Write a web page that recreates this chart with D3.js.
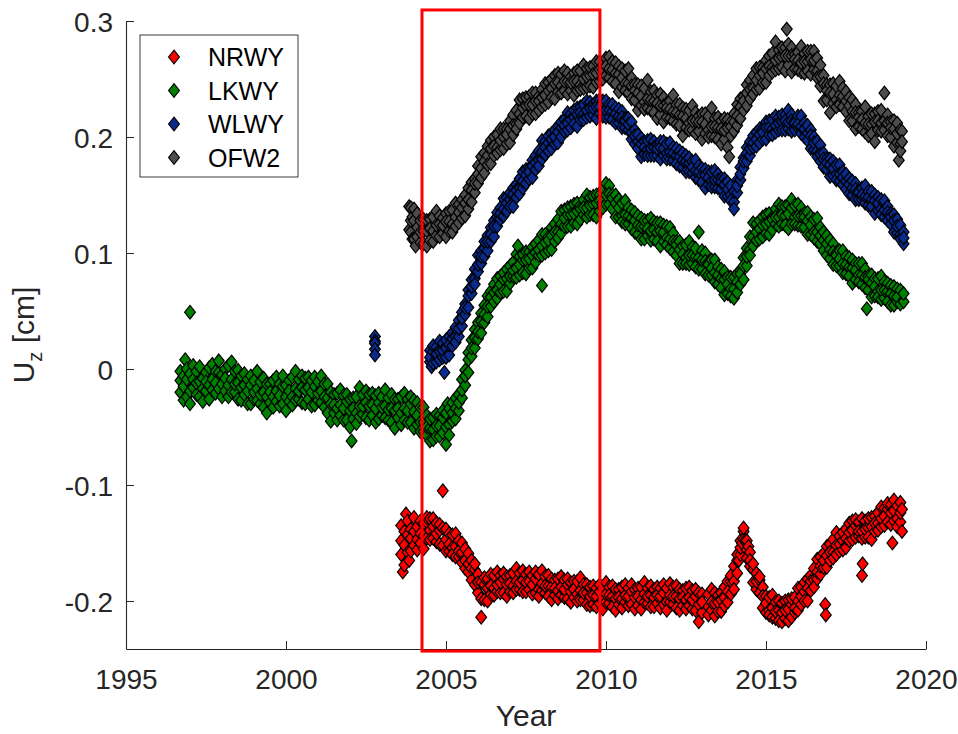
<!DOCTYPE html>
<html><head><meta charset="utf-8">
<script src="https://cdn.jsdelivr.net/npm/d3@7"></script>
<style>html,body{margin:0;padding:0;background:#fff;}svg{display:block;}</style>
</head><body><svg id="chart" width="958" height="734"></svg>
<script>
const seriesNames = ["NRWY", "LKWY", "WLWY", "OFW2"];
const seriesColors = ["#ff0000", "#008000", "#0a2a8c", "#4d4d4d"];
const xTicks = [1995, 2000, 2005, 2010, 2015, 2020];
const yTicks = [-0.2, -0.1, 0, 0.1, 0.2, 0.3];
const xLabel = "Year";
const highlightWindow = [2004.25, 2009.81];

// Each row: [year, Uz values observed around that epoch...]
const nrwy = [
[2003.6,-0.135,-0.160,-0.148],[2003.65,-0.175],[2003.7,-0.169,-0.140,-0.152],[2003.75,-0.125],[2003.8,-0.143,-0.158,-0.131],
[2003.85,-0.165],[2003.9,-0.157,-0.138,-0.146],[2004.0,-0.128,-0.152,-0.140],[2004.1,-0.156,-0.136,-0.147],[2004.2,-0.142,-0.150,-0.131],
[2004.3,-0.155,-0.133,-0.144],[2004.4,-0.132,-0.146,-0.128],[2004.5,-0.139,-0.129,-0.147],[2004.6,-0.129,-0.146,-0.136],
[2004.7,-0.149,-0.133,-0.142],[2004.8,-0.139,-0.151,-0.134],[2004.9,-0.105,-0.137,-0.152],[2005.0,-0.157,-0.138,-0.147],
[2005.1,-0.142,-0.157,-0.151],[2005.2,-0.154,-0.143,-0.160],[2005.3,-0.142,-0.162,-0.153],[2005.4,-0.162,-0.148,-0.157],
[2005.5,-0.158,-0.167,-0.150],[2005.6,-0.172,-0.155,-0.165],[2005.7,-0.159,-0.175,-0.168],[2005.8,-0.182,-0.165,-0.172],
[2005.9,-0.173,-0.186,-0.168],[2006.0,-0.193,-0.177,-0.184],[2006.1,-0.214,-0.184,-0.198],[2006.2,-0.186,-0.199,-0.180],
[2006.3,-0.200,-0.181,-0.189],[2006.4,-0.177,-0.194,-0.187],[2006.5,-0.189,-0.178,-0.195],[2006.6,-0.175,-0.192,-0.186],
[2006.7,-0.193,-0.178,-0.184],[2006.8,-0.181,-0.193,-0.176],[2006.9,-0.196,-0.179,-0.186],[2007.0,-0.178,-0.192,-0.185],
[2007.1,-0.187,-0.176,-0.193],[2007.2,-0.172,-0.190,-0.183],[2007.3,-0.190,-0.176,-0.184],[2007.4,-0.182,-0.192,-0.174],
[2007.5,-0.192,-0.177,-0.184],[2007.6,-0.175,-0.190,-0.183],[2007.7,-0.194,-0.178,-0.186],[2007.8,-0.181,-0.193,-0.175],
[2007.9,-0.190,-0.177,-0.196],[2008.0,-0.174,-0.191,-0.185],[2008.1,-0.193,-0.179,-0.187],[2008.2,-0.187,-0.196,-0.178],
[2008.3,-0.199,-0.181,-0.188],[2008.4,-0.182,-0.195,-0.189],[2008.5,-0.191,-0.181,-0.198],[2008.6,-0.179,-0.195,-0.188],
[2008.7,-0.197,-0.182,-0.190],[2008.8,-0.186,-0.198,-0.181],[2008.9,-0.201,-0.184,-0.192],[2009.0,-0.183,-0.197,-0.190],
[2009.1,-0.194,-0.183,-0.200],[2009.2,-0.180,-0.199,-0.191],[2009.3,-0.199,-0.186,-0.193],[2009.4,-0.193,-0.203,-0.186],
[2009.5,-0.204,-0.188,-0.196],[2009.6,-0.187,-0.203,-0.195],[2009.7,-0.205,-0.189,-0.196],[2009.8,-0.192,-0.202,-0.186],
[2009.9,-0.200,-0.189,-0.207],[2010.0,-0.184,-0.201,-0.194],[2010.1,-0.202,-0.188,-0.195],[2010.2,-0.196,-0.205,-0.187],
[2010.3,-0.208,-0.190,-0.198],[2010.4,-0.190,-0.203,-0.197],[2010.5,-0.198,-0.188,-0.206],[2010.6,-0.186,-0.201,-0.195],
[2010.7,-0.204,-0.189,-0.196],[2010.8,-0.192,-0.203,-0.186],[2010.9,-0.207,-0.190,-0.197],[2011.0,-0.189,-0.204,-0.196],
[2011.1,-0.199,-0.188,-0.207],[2011.2,-0.184,-0.201,-0.194],[2011.3,-0.202,-0.189,-0.196],[2011.4,-0.195,-0.205,-0.187],
[2011.5,-0.205,-0.190,-0.197],[2011.6,-0.188,-0.202,-0.195],[2011.7,-0.206,-0.189,-0.196],[2011.8,-0.193,-0.203,-0.186],
[2011.9,-0.201,-0.189,-0.208],[2012.0,-0.185,-0.201,-0.195],[2012.1,-0.203,-0.188,-0.196],[2012.2,-0.196,-0.206,-0.187],
[2012.3,-0.208,-0.190,-0.198],[2012.4,-0.191,-0.204,-0.197],[2012.5,-0.199,-0.189,-0.207],[2012.6,-0.188,-0.204,-0.197],
[2012.7,-0.207,-0.191,-0.199],[2012.8,-0.196,-0.208,-0.190],[2012.9,-0.218,-0.193,-0.203],[2013.0,-0.194,-0.210,-0.201],
[2013.2,-0.205,-0.194,-0.212],[2013.3,-0.190,-0.208,-0.201],[2013.4,-0.213,-0.193,-0.202],[2013.5,-0.195,-0.209,-0.201],
[2013.6,-0.209,-0.193,-0.199],[2013.7,-0.188,-0.204,-0.197],[2013.8,-0.201,-0.183,-0.192],[2013.9,-0.183,-0.194,-0.178],
[2014.0,-0.183,-0.170,-0.190],[2014.1,-0.165,-0.176,-0.160],[2014.15,-0.165],[2014.2,-0.148,-0.160,-0.154],[2014.25,-0.150],
[2014.3,-0.140,-0.147,-0.137],[2014.35,-0.148],[2014.4,-0.156,-0.148,-0.163],[2014.45,-0.153],[2014.5,-0.170,-0.158,-0.165],
[2014.6,-0.173,-0.184,-0.168],[2014.7,-0.190,-0.176,-0.183],[2014.8,-0.182,-0.193,-0.179],[2014.9,-0.206,-0.188,-0.196],
[2015.0,-0.196,-0.210,-0.202],[2015.1,-0.208,-0.197,-0.212],[2015.2,-0.195,-0.214,-0.206],[2015.3,-0.215,-0.201,-0.209],
[2015.4,-0.208,-0.217,-0.200],[2015.5,-0.218,-0.202,-0.210],[2015.6,-0.200,-0.215,-0.208],[2015.7,-0.217,-0.199,-0.207],
[2015.8,-0.203,-0.214,-0.198],[2015.9,-0.210,-0.197,-0.206],[2016.0,-0.189,-0.208,-0.200],[2016.1,-0.203,-0.188,-0.196],
[2016.2,-0.192,-0.200,-0.184],[2016.3,-0.200,-0.181,-0.189],[2016.4,-0.178,-0.191,-0.183],[2016.5,-0.182,-0.172,-0.188],
[2016.6,-0.164,-0.181,-0.175],[2016.7,-0.177,-0.162,-0.170],[2016.8,-0.159,-0.171,-0.165],[2016.85,-0.203],[2016.87,-0.212],
[2016.9,-0.171,-0.153,-0.161],[2017.0,-0.151,-0.165,-0.158],[2017.1,-0.158,-0.147,-0.163],[2017.2,-0.141,-0.160,-0.152],
[2017.3,-0.157,-0.144,-0.151],[2017.4,-0.148,-0.156,-0.141],[2017.5,-0.154,-0.138,-0.146],[2017.6,-0.133,-0.148,-0.141],
[2017.7,-0.147,-0.131,-0.139],[2017.8,-0.135,-0.145,-0.130],[2017.9,-0.144,-0.132,-0.140],[2018.0,-0.129,-0.146,-0.140,-0.178],
[2018.02,-0.168],[2018.1,-0.145,-0.131,-0.138],[2018.2,-0.137,-0.145,-0.129],[2018.3,-0.147,-0.128,-0.136],
[2018.4,-0.127,-0.140,-0.133],[2018.5,-0.133,-0.124,-0.139],[2018.6,-0.119,-0.136,-0.129],[2018.7,-0.135,-0.120,-0.127],
[2018.8,-0.121,-0.132,-0.116],[2018.9,-0.134,-0.117,-0.124],[2018.95,-0.150],[2019.0,-0.113,-0.131,-0.122],
[2019.1,-0.129,-0.118,-0.136],[2019.2,-0.115,-0.132,-0.124],[2019.25,-0.140,-0.121]
];

const lkwy = [
[1997.0,0.049],[1996.7,-0.002,-0.020,-0.010],[1996.8,-0.027,-0.006,-0.015],[1996.85,0.008],[1996.9,-0.009,-0.024,0.000],
[1997.0,-0.019,-0.004,-0.030],[1997.1,0.003,-0.016,-0.009],[1997.2,-0.022,-0.002,-0.012],[1997.3,-0.011,-0.024,0.002],
[1997.4,-0.028,-0.008,-0.017],[1997.5,-0.003,-0.019,-0.011],[1997.6,-0.014,0.001,-0.026],[1997.7,0.004,-0.018,-0.009],
[1997.8,-0.021,-0.002,-0.012],[1997.9,-0.003,-0.017,0.007],[1998.0,-0.024,-0.005,-0.013],[1998.1,0.000,-0.019,-0.008],
[1998.2,-0.014,0.003,-0.024],[1998.3,0.006,-0.020,-0.009],[1998.4,-0.020,-0.002,-0.013],[1998.5,-0.012,-0.026,-0.001],
[1998.6,-0.027,-0.006,-0.016],[1998.7,-0.004,-0.022,-0.014],[1998.8,-0.030,-0.009,-0.019],[1998.9,-0.014,-0.030,-0.006],
[1999.0,-0.026,-0.010,-0.020],[1999.1,-0.002,-0.027,-0.017],[1999.2,-0.030,-0.011,-0.022],[1999.3,-0.020,-0.033,-0.008],
[1999.4,-0.038,-0.013,-0.024],[1999.5,-0.013,-0.029,-0.020],[1999.6,-0.024,-0.010,-0.033],[1999.7,-0.007,-0.028,-0.019],
[1999.8,-0.032,-0.013,-0.023],[1999.9,-0.015,-0.030,-0.006],[2000.0,-0.036,-0.014,-0.024],[2000.1,-0.010,-0.028,-0.019],
[2000.2,-0.024,-0.007,-0.031],[2000.3,-0.002,-0.027,-0.017],[2000.4,-0.026,-0.009,-0.019],[2000.5,-0.016,-0.029,-0.006],
[2000.6,-0.030,-0.008,-0.018],[2000.7,-0.007,-0.026,-0.016],[2000.8,-0.032,-0.010,-0.020],[2000.9,-0.015,-0.031,-0.007],
[2001.0,-0.027,-0.011,-0.021],[2001.1,-0.006,-0.029,-0.019],[2001.2,-0.033,-0.013,-0.024],[2001.3,-0.025,-0.038,-0.013],
[2001.4,-0.045,-0.020,-0.030],[2001.5,-0.022,-0.038,-0.031],[2001.6,-0.034,-0.021,-0.044],[2001.7,-0.018,-0.040,-0.031],
[2001.8,-0.044,-0.023,-0.034],[2001.9,-0.028,-0.044,-0.022],[2002.0,-0.050,-0.026,-0.036],[2002.05,-0.062],
[2002.1,-0.025,-0.043,-0.034],[2002.2,-0.038,-0.024,-0.047],[2002.3,-0.016,-0.041,-0.032],[2002.4,-0.039,-0.022,-0.032],
[2002.5,-0.029,-0.042,-0.019],[2002.6,-0.044,-0.022,-0.032],[2002.7,-0.021,-0.040,-0.031],[2002.8,-0.046,-0.023,-0.034],
[2002.9,-0.029,-0.043,-0.021],[2003.0,-0.040,-0.024,-0.033],[2003.1,-0.018,-0.042,-0.032],[2003.2,-0.044,-0.025,-0.035],
[2003.3,-0.034,-0.046,-0.022],[2003.4,-0.051,-0.026,-0.036],[2003.5,-0.026,-0.042,-0.034],[2003.6,-0.038,-0.024,-0.048],
[2003.7,-0.021,-0.044,-0.034],[2003.8,-0.046,-0.026,-0.036],[2003.9,-0.030,-0.046,-0.024],[2004.0,-0.051,-0.027,-0.037],
[2004.1,-0.029,-0.048,-0.040],[2004.2,-0.046,-0.033,-0.054],[2004.3,-0.033,-0.054,-0.046],[2004.4,-0.057,-0.040,-0.050],
[2004.5,-0.051,-0.062,-0.043],[2004.6,-0.061,-0.042,-0.052],[2004.7,-0.039,-0.058,-0.049],[2004.8,-0.058,-0.040,-0.049],
[2004.9,-0.042,-0.055,-0.036],[2005.0,-0.065,-0.038,-0.050],[2005.05,-0.030],[2005.1,-0.048,-0.034,-0.057],
[2005.2,-0.029,-0.045,-0.038],[2005.3,-0.043,-0.025,-0.034],[2005.4,-0.022,-0.036,-0.029],[2005.5,-0.025,-0.009,-0.018],
[2005.6,-0.001,-0.014,-0.006],[2005.7,-0.003,0.014,0.008],[2005.8,0.025,0.011,0.018],[2005.9,0.018,0.034,0.027],
[2006.0,0.040,0.026,0.032],[2006.1,0.031,0.048,0.041],[2006.2,0.055,0.040,0.047],[2006.3,0.045,0.063,0.054],
[2006.4,0.067,0.054,0.062],[2006.5,0.058,0.073,0.066],[2006.6,0.078,0.061,0.068],[2006.7,0.066,0.080,0.073],
[2006.8,0.077,0.067,0.083],[2006.9,0.067,0.086,0.078],[2007.0,0.089,0.074,0.080],[2007.1,0.080,0.092,0.085],
[2007.2,0.099,0.079,0.087],[2007.25,0.106],[2007.3,0.081,0.097,0.090],[2007.4,0.094,0.083,0.099],[2007.5,0.082,0.101,0.094],
[2007.6,0.101,0.087,0.095],[2007.7,0.087,0.105,0.098],[2007.8,0.108,0.092,0.100],[2007.9,0.098,0.111,0.103],
[2008.0,0.116,0.098,0.106,0.072],[2008.1,0.100,0.116,0.109],[2008.2,0.114,0.102,0.111],[2008.3,0.103,0.122,0.115],
[2008.4,0.125,0.110,0.118],[2008.5,0.118,0.129,0.113],[2008.6,0.136,0.117,0.125],[2008.7,0.123,0.137,0.130],
[2008.8,0.133,0.123,0.139],[2008.9,0.123,0.140,0.133],[2009.0,0.142,0.126,0.134],[2009.1,0.125,0.143,0.136],
[2009.2,0.141,0.129,0.138],[2009.3,0.133,0.146,0.139],[2009.4,0.150,0.131,0.139],[2009.5,0.133,0.148,0.141],
[2009.6,0.142,0.133,0.149],[2009.7,0.131,0.150,0.143],[2009.8,0.150,0.136,0.145],[2009.9,0.144,0.155,0.139],
[2010.0,0.160,0.142,0.150],[2010.1,0.142,0.158,0.151],[2010.2,0.150,0.138,0.147],[2010.3,0.131,0.150,0.143],
[2010.4,0.146,0.131,0.139],[2010.5,0.132,0.143,0.127],[2010.6,0.145,0.125,0.133],[2010.7,0.125,0.139,0.132],
[2010.8,0.130,0.121,0.137],[2010.9,0.118,0.135,0.128],[2011.0,0.132,0.116,0.124],[2011.1,0.112,0.130,0.123],
[2011.2,0.123,0.112,0.128],[2011.3,0.115,0.128,0.121],[2011.4,0.130,0.111,0.119],[2011.5,0.112,0.127,0.120],
[2011.6,0.118,0.110,0.126],[2011.7,0.106,0.126,0.119],[2011.8,0.124,0.110,0.118],[2011.9,0.113,0.123,0.107],
[2012.0,0.122,0.104,0.112],[2012.1,0.101,0.117,0.110],[2012.2,0.110,0.098,0.107],[2012.3,0.091,0.110,0.103],
[2012.4,0.106,0.091,0.099],[2012.5,0.096,0.107,0.091],[2012.6,0.110,0.090,0.098],[2012.7,0.091,0.105,0.098],
[2012.8,0.097,0.088,0.104],[2012.9,0.086,0.118,0.096],[2013.0,0.102,0.086,0.094],[2013.1,0.082,0.100,0.093],
[2013.2,0.092,0.081,0.090],[2013.3,0.081,0.094,0.087],[2013.4,0.094,0.075,0.083],[2013.5,0.073,0.088,0.081],
[2013.6,0.078,0.070,0.086],[2013.7,0.064,0.084,0.077],[2013.8,0.079,0.065,0.073],[2013.9,0.069,0.079,0.063],
[2014.0,0.079,0.061,0.069],[2014.1,0.066,0.082,0.075],[2014.2,0.085,0.073,0.082],[2014.3,0.077,0.096,0.089],
[2014.4,0.104,0.089,0.097],[2014.5,0.103,0.114,0.098],[2014.6,0.126,0.106,0.114],[2014.7,0.111,0.125,0.118],
[2014.8,0.121,0.112,0.128],[2014.9,0.114,0.131,0.124],[2015.0,0.133,0.117,0.125],[2015.1,0.116,0.134,0.127],
[2015.2,0.131,0.120,0.129],[2015.3,0.125,0.138,0.131],[2015.4,0.142,0.123,0.131],[2015.5,0.125,0.140,0.133],
[2015.6,0.132,0.124,0.140],[2015.7,0.121,0.141,0.134],[2015.8,0.139,0.125,0.146],[2015.9,0.131,0.141,0.125],
[2016.0,0.142,0.124,0.132],[2016.1,0.123,0.139,0.132],[2016.2,0.134,0.122,0.131],[2016.3,0.116,0.135,0.128],
[2016.4,0.131,0.116,0.124],[2016.5,0.118,0.129,0.113],[2016.6,0.130,0.110,0.118],[2016.7,0.108,0.122,0.115],
[2016.8,0.111,0.102,0.118],[2016.9,0.098,0.115,0.108],[2017.0,0.111,0.095,0.103],[2017.1,0.090,0.108,0.101],
[2017.2,0.100,0.089,0.098],[2017.3,0.089,0.102,0.095],[2017.4,0.102,0.083,0.091],[2017.5,0.082,0.097,0.090],
[2017.6,0.088,0.080,0.096],[2017.7,0.074,0.094,0.087],[2017.8,0.091,0.077,0.085],[2017.9,0.081,0.091,0.075],
[2018.0,0.091,0.073,0.081],[2018.1,0.070,0.086,0.079],[2018.15,0.052],[2018.2,0.080,0.068,0.077],[2018.3,0.062,0.081,0.074],
[2018.4,0.078,0.063,0.071],[2018.5,0.067,0.078,0.062],[2018.6,0.080,0.060,0.068],[2018.7,0.061,0.075,0.068],
[2018.8,0.067,0.058,0.074],[2018.9,0.055,0.072,0.065],[2019.0,0.071,0.055,0.063],[2019.1,0.058,0.069,0.062],
[2019.2,0.068,0.056],[2019.3,0.058,0.065]
];

const wlwy = [
[2002.78,0.028,0.024,0.022,0.017,0.012],
[2004.5,0.016,0.006,0.010],[2004.55,0.002],[2004.6,0.015,0.005,0.020],[2004.7,0.006,0.019,0.013],[2004.8,0.024,0.008,0.015],
[2004.9,0.010,0.022,0.016],[2004.95,-0.003],[2005.0,0.018,0.010,0.025],[2005.1,0.012,0.028,0.021],[2005.2,0.031,0.020,0.026],
[2005.3,0.028,0.036,0.023],[2005.4,0.042,0.028,0.035],[2005.5,0.037,0.049,0.044],[2005.6,0.056,0.047,0.053],
[2005.7,0.053,0.068,0.063],[2005.8,0.077,0.065,0.071],[2005.9,0.078,0.086,0.073],[2006.0,0.098,0.084,0.090],
[2006.1,0.091,0.102,0.097],[2006.2,0.104,0.097,0.110],[2006.3,0.102,0.115,0.110],[2006.4,0.122,0.110,0.116],
[2006.5,0.114,0.128,0.123],[2006.6,0.131,0.123,0.135],[2006.7,0.129,0.139,0.134],[2006.8,0.147,0.132,0.138],
[2006.9,0.136,0.148,0.143],[2007.0,0.146,0.140,0.152],[2007.1,0.140,0.156,0.151],[2007.2,0.159,0.148,0.154],
[2007.3,0.156,0.164,0.151],[2007.4,0.170,0.156,0.162],[2007.5,0.160,0.172,0.167],[2007.6,0.173,0.164,0.170],
[2007.7,0.165,0.180,0.175],[2007.8,0.184,0.172,0.178],[2007.9,0.180,0.188,0.175],[2008.0,0.197,0.181,0.187],
[2008.1,0.185,0.196,0.191],[2008.2,0.195,0.188,0.201],[2008.3,0.190,0.203,0.198],[2008.4,0.206,0.194,0.200],
[2008.5,0.195,0.209,0.204],[2008.6,0.208,0.200,0.213],[2008.7,0.205,0.215,0.210],[2008.8,0.221,0.206,0.212],
[2008.9,0.208,0.220,0.215],[2009.0,0.217,0.211,0.223],[2009.1,0.209,0.225,0.220],[2009.2,0.226,0.215,0.221],
[2009.3,0.220,0.228,0.215],[2009.4,0.231,0.217,0.223],[2009.5,0.218,0.230,0.225],[2009.6,0.228,0.219,0.225],
[2009.7,0.216,0.231,0.226],[2009.8,0.232,0.220,0.226],[2009.9,0.223,0.231,0.218],[2010.0,0.231,0.217,0.223],
[2010.1,0.217,0.228,0.223],[2010.2,0.222,0.215,0.228],[2010.3,0.212,0.225,0.220],[2010.4,0.224,0.212,0.218],
[2010.5,0.208,0.222,0.217],[2010.6,0.216,0.208,0.214],[2010.7,0.206,0.216,0.211],[2010.8,0.213,0.198,0.204],
[2010.9,0.194,0.206,0.201],[2011.0,0.196,0.190,0.202],[2011.1,0.183,0.199,0.194],[2011.2,0.196,0.185,0.191],
[2011.3,0.189,0.197,0.184],[2011.4,0.198,0.184,0.190],[2011.5,0.184,0.196,0.191],[2011.6,0.193,0.184,0.190],
[2011.7,0.181,0.196,0.191],[2011.8,0.196,0.184,0.190],[2011.9,0.186,0.194,0.181],[2012.0,0.195,0.181,0.187],
[2012.1,0.180,0.191,0.186],[2012.2,0.184,0.177,0.190],[2012.3,0.175,0.188,0.183],[2012.4,0.186,0.174,0.180],
[2012.5,0.170,0.184,0.179],[2012.6,0.178,0.170,0.182],[2012.7,0.169,0.179,0.174],[2012.8,0.180,0.165,0.171],
[2012.9,0.163,0.175,0.170],[2013.0,0.167,0.161,0.173],[2013.1,0.156,0.172,0.167],[2013.2,0.170,0.159,0.165],
[2013.3,0.162,0.170,0.157],[2013.4,0.171,0.157,0.163],[2013.5,0.156,0.168,0.163],[2013.6,0.164,0.155,0.161],
[2013.7,0.149,0.164,0.159],[2013.8,0.161,0.149,0.155],[2013.9,0.150,0.158,0.145],[2014.0,0.144,0.138,0.153],
[2014.1,0.163,0.152,0.158],[2014.2,0.163,0.174,0.168],[2014.3,0.182,0.173,0.179],[2014.4,0.179,0.191,0.186],
[2014.5,0.196,0.184,0.190],[2014.6,0.191,0.201,0.195],[2014.7,0.204,0.192,0.198],[2014.8,0.195,0.207,0.202],
[2014.9,0.207,0.198,0.204],[2015.0,0.198,0.213,0.208],[2015.1,0.214,0.202,0.208],[2015.2,0.207,0.215,0.202],
[2015.3,0.218,0.204,0.210],[2015.4,0.206,0.217,0.212],[2015.5,0.213,0.206,0.219],[2015.6,0.206,0.219,0.214],
[2015.7,0.223,0.207,0.213],[2015.8,0.205,0.219,0.214],[2015.9,0.214,0.206,0.212],[2016.0,0.208,0.218,0.211],
[2016.1,0.218,0.203,0.209],[2016.2,0.200,0.212,0.207],[2016.3,0.203,0.197,0.210],[2016.4,0.190,0.206,0.201],
[2016.5,0.200,0.189,0.195],[2016.6,0.188,0.196,0.183],[2016.7,0.193,0.179,0.185],[2016.8,0.174,0.186,0.181],
[2016.9,0.181,0.172,0.178],[2017.0,0.166,0.181,0.176],[2017.1,0.179,0.167,0.173],[2017.2,0.168,0.176,0.163],
[2017.3,0.176,0.162,0.168],[2017.4,0.159,0.170,0.165],[2017.5,0.162,0.155,0.168],[2017.6,0.151,0.164,0.159],
[2017.7,0.162,0.150,0.156],[2017.8,0.146,0.160,0.155],[2017.9,0.154,0.146,0.152],[2018.0,0.146,0.156,0.150],
[2018.1,0.158,0.143,0.149],[2018.2,0.141,0.153,0.148],[2018.3,0.146,0.140,0.153],[2018.4,0.134,0.150,0.145],
[2018.5,0.148,0.137,0.143],[2018.6,0.138,0.146,0.133],[2018.7,0.145,0.131,0.137],[2018.8,0.128,0.140,0.135],
[2018.9,0.134,0.125,0.131],[2019.0,0.118,0.133,0.128],[2019.1,0.129,0.117,0.123],[2019.2,0.116,0.124,0.112],
[2019.3,0.118,0.108,0.113]
];

const ofw2 = [
[2003.85,0.140,0.120],[2003.9,0.139,0.118,0.128],[2003.95,0.112,0.131],[2004.0,0.128,0.112,0.138],[2004.05,0.106],
[2004.1,0.134,0.114,0.122],[2004.2,0.109,0.128,0.118],[2004.3,0.119,0.108,0.129],[2004.4,0.106,0.128,0.119],
[2004.5,0.129,0.111,0.121],[2004.6,0.119,0.131,0.110],[2004.7,0.136,0.115,0.124],[2004.8,0.114,0.132,0.125],
[2004.9,0.130,0.117,0.124],[2005.0,0.114,0.134,0.127],[2005.1,0.136,0.119,0.127],[2005.2,0.125,0.137,0.118],
[2005.3,0.143,0.123,0.131],[2005.4,0.126,0.142,0.135],[2005.5,0.139,0.130,0.146],[2005.6,0.132,0.150,0.143],
[2005.7,0.156,0.138,0.146],[2005.8,0.144,0.161,0.154],[2005.9,0.164,0.152,0.160],[2006.0,0.160,0.175,0.168],
[2006.1,0.183,0.165,0.173],[2006.2,0.169,0.186,0.179],[2006.3,0.184,0.176,0.192],[2006.4,0.177,0.197,0.190],
[2006.5,0.200,0.184,0.192],[2006.6,0.191,0.202,0.186],[2006.7,0.207,0.189,0.197],[2006.8,0.190,0.207,0.200],
[2006.9,0.207,0.194,0.202],[2007.0,0.195,0.214,0.207],[2007.1,0.219,0.202,0.210],[2007.2,0.211,0.223,0.207],
[2007.3,0.232,0.212,0.220],[2007.4,0.217,0.233,0.225],[2007.5,0.227,0.218,0.234],[2007.6,0.216,0.235,0.228],
[2007.7,0.238,0.220,0.228],[2007.8,0.220,0.238,0.231],[2007.9,0.235,0.223,0.231],[2008.0,0.226,0.241,0.234],
[2008.1,0.246,0.228,0.236],[2008.2,0.230,0.247,0.240],[2008.3,0.242,0.234,0.250],[2008.4,0.233,0.253,0.246],
[2008.5,0.255,0.239,0.247],[2008.6,0.244,0.254,0.238],[2008.7,0.257,0.240,0.248],[2008.8,0.237,0.255,0.248],
[2008.9,0.252,0.240,0.247],[2009.0,0.236,0.255,0.248],[2009.1,0.257,0.240,0.248],[2009.2,0.245,0.257,0.241],
[2009.3,0.262,0.242,0.250],[2009.4,0.243,0.259,0.252],[2009.5,0.253,0.244,0.260],[2009.6,0.243,0.261,0.254],
[2009.7,0.265,0.247,0.255],[2009.8,0.248,0.265,0.258],[2009.9,0.262,0.250,0.258],[2010.0,0.253,0.268,0.261],
[2010.1,0.269,0.251,0.259],[2010.2,0.248,0.265,0.258],[2010.3,0.255,0.246,0.264],[2010.4,0.239,0.261,0.254],
[2010.5,0.259,0.243,0.251],[2010.6,0.246,0.257,0.240],[2010.7,0.259,0.238,0.246],[2010.8,0.233,0.251,0.244],
[2010.9,0.245,0.232,0.240],[2011.0,0.223,0.245,0.238],[2011.1,0.244,0.227,0.235],[2011.2,0.230,0.242,0.224],
[2011.3,0.249,0.225,0.233],[2011.4,0.223,0.239,0.232],[2011.5,0.231,0.221,0.240],[2011.6,0.216,0.236,0.229],
[2011.7,0.237,0.219,0.227],[2011.8,0.213,0.234,0.227],[2011.9,0.229,0.217,0.225],[2012.0,0.216,0.231,0.224],
[2012.1,0.236,0.214,0.222],[2012.2,0.211,0.228,0.221],[2012.3,0.219,0.210,0.228],[2012.4,0.201,0.225,0.218],
[2012.5,0.224,0.208,0.216],[2012.6,0.212,0.223,0.206],[2012.7,0.227,0.206,0.214],[2012.8,0.203,0.221,0.214],
[2012.9,0.218,0.205,0.213],[2013.0,0.198,0.220,0.213],[2013.1,0.220,0.203,0.211],[2013.2,0.206,0.218,0.200],
[2013.3,0.225,0.201,0.209],[2013.4,0.200,0.216,0.209],[2013.5,0.208,0.198,0.217],[2013.6,0.194,0.214,0.207],
[2013.7,0.216,0.198,0.206],[2013.8,0.191,0.215,0.208],[2013.85,0.183],[2013.9,0.213,0.201,0.209],
[2014.0,0.205,0.220,0.213],[2014.1,0.228,0.210,0.218],[2014.2,0.216,0.233,0.226],[2014.3,0.235,0.223,0.231],
[2014.4,0.227,0.245,0.238],[2014.5,0.249,0.233,0.241],[2014.6,0.242,0.253,0.237],[2014.7,0.259,0.241,0.249],
[2014.8,0.242,0.260,0.253],[2014.9,0.260,0.247,0.255],[2015.0,0.247,0.266,0.259],[2015.1,0.270,0.253,0.261],
[2015.2,0.260,0.272,0.256],[2015.3,0.282,0.258,0.266],[2015.4,0.259,0.275,0.268],[2015.5,0.269,0.260,0.277],
[2015.6,0.257,0.277,0.270],[2015.65,0.293],[2015.7,0.280,0.262,0.270],[2015.8,0.256,0.277,0.270],
[2015.9,0.271,0.259,0.267],[2016.0,0.258,0.273,0.266],[2016.1,0.278,0.256,0.264],[2016.2,0.255,0.272,0.265],
[2016.3,0.265,0.257,0.274],[2016.4,0.254,0.274,0.267],[2016.5,0.274,0.258,0.266],[2016.6,0.257,0.268,0.251],
[2016.7,0.262,0.244,0.252],[2016.8,0.231,0.253,0.246],[2016.9,0.245,0.232,0.240],[2017.0,0.221,0.245,0.238],
[2017.1,0.246,0.229,0.237],[2017.2,0.232,0.244,0.226],[2017.3,0.248,0.228,0.236],[2017.4,0.226,0.242,0.235],
[2017.5,0.231,0.222,0.239],[2017.6,0.214,0.234,0.227],[2017.7,0.232,0.214,0.222],[2017.8,0.207,0.228,0.221],
[2017.9,0.221,0.209,0.217],[2018.0,0.207,0.222,0.215],[2018.1,0.226,0.204,0.212],[2018.2,0.201,0.218,0.211],
[2018.3,0.211,0.203,0.220],[2018.4,0.196,0.220,0.213],[2018.5,0.222,0.206,0.214],[2018.6,0.212,0.223,0.205],
[2018.7,0.238,0.206,0.214],[2018.8,0.201,0.219,0.212],[2018.9,0.213,0.200,0.208],[2019.0,0.192,0.214,0.207],
[2019.1,0.212,0.195,0.203],[2019.15,0.180],[2019.2,0.194,0.206,0.188],[2019.25,0.205,0.196]
];

const allSeries = [nrwy, lkwy, wlwy, ofw2];

const svg = d3.select("#chart");
const FONT = "'Liberation Sans', Arial, Helvetica, sans-serif";
const AX = "#262626";

const x = d3.scaleLinear().domain([1995, 2020]).range([126, 926]);
const y = d3.scaleLinear().domain([-0.2414, 0.3]).range([649, 21]);

const dw = 5.4, dh = 6.8;
const diamondPath = `M0,${-dh}L${dw},0L0,${dh}L${-dw},0Z`;

const fmtY = d => d === 0 ? "0" : d3.format(".1f")(d).replace("\u2212", "-");
const xAxis = d3.axisBottom(x).tickValues(xTicks).tickFormat(d3.format("d")).tickSizeInner(-8).tickSizeOuter(0).tickPadding(20);
const gx = svg.append("g").attr("transform", `translate(0,${y.range()[0]})`).call(xAxis);
const yAxis = d3.axisLeft(y).tickValues(yTicks).tickFormat(fmtY).tickSizeInner(-8).tickSizeOuter(0).tickPadding(13);
const gy = svg.append("g").attr("transform", `translate(${x.range()[0]},0)`).call(yAxis);
[gx, gy].forEach(g => {
  g.select(".domain").attr("stroke", AX).attr("stroke-width", 1.1);
  g.selectAll(".tick line").attr("stroke", AX).attr("stroke-width", 1);
  g.selectAll(".tick text").attr("fill", AX).style("font-family", FONT).style("font-size", "28px");
});
gx.selectAll(".tick text").attr("dy", "0.72em");
gy.selectAll(".tick text").attr("dy", "0.36em");

allSeries.forEach((rows, i) => {
  const pts = rows.flatMap(r => r.slice(1).map(v => [r[0], v]));
  svg.append("g").selectAll("path").data(pts).join("path")
    .attr("d", diamondPath)
    .attr("transform", d => `translate(${x(d[0])},${y(d[1])})`)
    .attr("fill", seriesColors[i]).attr("stroke", "#000").attr("stroke-width", 1.2);
});

svg.append("rect")
  .attr("x", x(highlightWindow[0])).attr("y", y(0.3095))
  .attr("width", x(highlightWindow[1]) - x(highlightWindow[0]))
  .attr("height", y(-0.2432) - y(0.3095))
  .attr("fill", "none").attr("stroke", "#ff0000").attr("stroke-width", 3);

svg.append("text").attr("x", (x.range()[0] + x.range()[1]) / 2).attr("y", 726)
  .attr("text-anchor", "middle").attr("fill", AX).style("font-family", FONT).style("font-size", "30px").text(xLabel);
const yl = svg.append("text").attr("transform", "translate(34,335) rotate(-90)")
  .attr("text-anchor", "middle").attr("fill", AX).style("font-family", FONT).style("font-size", "30px");
yl.append("tspan").text("U");
yl.append("tspan").attr("dy", 8).style("font-size", "20px").text("z");
yl.append("tspan").attr("dy", -8).text(" [cm]");

const lg = svg.append("g");
lg.append("rect").attr("x", 140).attr("y", 35).attr("width", 158).attr("height", 142)
  .attr("fill", "#fff").attr("stroke", AX).attr("stroke-width", 0.9);
seriesNames.forEach((name, i) => {
  const cy = 57 + i * 33.5;
  lg.append("path").attr("d", diamondPath).attr("transform", `translate(174,${cy})`)
    .attr("fill", seriesColors[i]).attr("stroke", "#000").attr("stroke-width", 1.2);
  lg.append("text").attr("x", 208).attr("y", cy + 9).attr("fill", "#000")
    .style("font-family", FONT).style("font-size", "25px").text(name);
});
</script>
</body></html>
